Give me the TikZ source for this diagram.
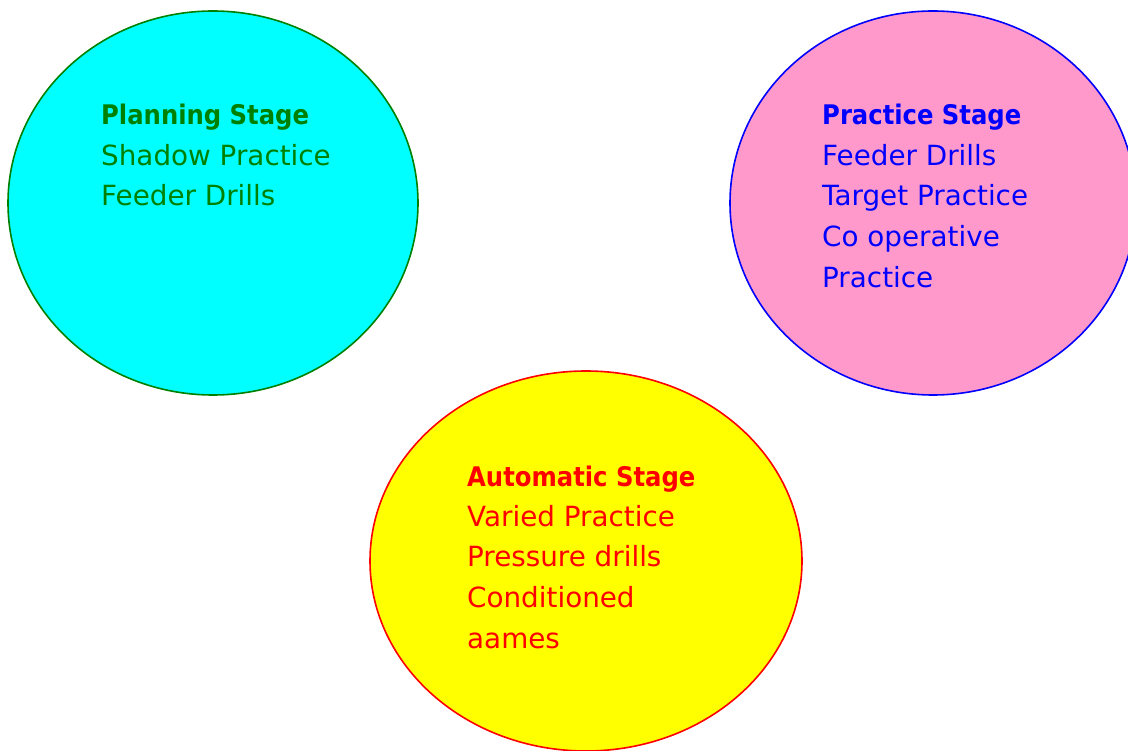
\documentclass[tikz,border=0pt]{standalone}
\usepackage{fontspec}
\setmainfont{DejaVu Sans}
\newfontfamily\titlefont{DejaVu Sans Condensed}
\begin{document}
\begin{tikzpicture}[x=1pt,y=-1pt,
  stage/.style={draw,line width=1.6pt},
  lbl/.style={anchor=base west,inner sep=0pt,font=\fontsize{27.8}{30}\selectfont},
  ttl/.style={lbl,font=\fontsize{27}{30}\selectfont\titlefont\bfseries}]
\useasboundingbox (0,0) rectangle (1128,751);
\definecolor{cyanfill}{HTML}{00FFFF}
\definecolor{pinkfill}{HTML}{FF99CC}
\definecolor{yellowfill}{HTML}{FFFF00}
\definecolor{darkgreen}{HTML}{008000}
\definecolor{pureblue}{HTML}{0000FF}
\definecolor{purered}{HTML}{FF0000}
% the three stage ellipses
\filldraw[stage,draw=darkgreen,fill=cyanfill] (213,203) ellipse [x radius=205,y radius=192];
\filldraw[stage,draw=pureblue,fill=pinkfill] (933,203) ellipse [x radius=203,y radius=192];
\filldraw[stage,draw=purered,fill=yellowfill] (586,561) ellipse [x radius=216,y radius=190];
% planning stage
\begin{scope}[text=darkgreen]
\node[ttl] (pl0) at (101,125) {Planning Stage};
\node[lbl] (pl1) at (101,166) {Shadow Practice};
\node[lbl] (pl2) at (101,206) {Feeder Drills};
\end{scope}
% practice stage
\begin{scope}[text=pureblue]
\node[ttl] (pr0) at (822,125) {Practice Stage};
\node[lbl] (pr1) at (822,166) {Feeder Drills};
\node[lbl] (pr2) at (822,206) {Target Practice};
\node[lbl] (pr3) at (822,247) {Co operative};
\node[lbl] (pr4) at (822,288) {Practice};
\end{scope}
% automatic stage
\begin{scope}[text=purered]
\node[ttl] (au0) at (467,486) {Automatic Stage};
\node[lbl] (au1) at (467,526) {Varied Practice};
\node[lbl] (au2) at (467,566) {Pressure drills};
\node[lbl] (au3) at (467,607) {Conditioned};
\node[lbl] (au4) at (467,648) {aames};
\end{scope}
\end{tikzpicture}
\end{document}
